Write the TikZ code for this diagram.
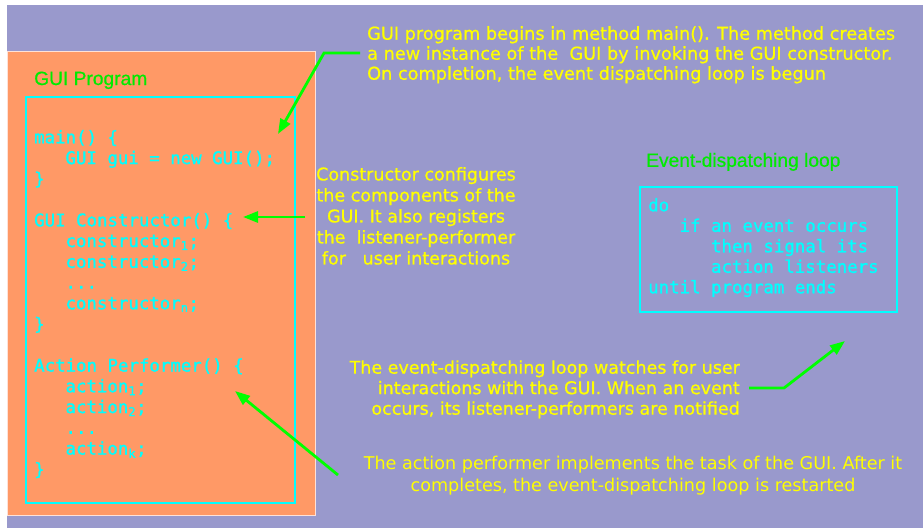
\documentclass[tikz,border=0pt]{standalone}
\usepackage{fontspec}
\setmainfont{DejaVu Sans}
\newfontfamily\notefont[FakeBold=0.8]{DejaVu Sans}
\newfontfamily\codefont[FakeBold=1.2]{DejaVu Sans Mono}
\newfontfamily\titlefont[FakeBold=0.6]{Liberation Sans}
\usetikzlibrary{arrows.meta}

\definecolor{bgpurple}{RGB}{153,153,204}
\definecolor{panelorange}{RGB}{255,153,102}
\definecolor{paneledge}{RGB}{255,225,215}
\definecolor{codecyan}{RGB}{0,255,255}
\definecolor{arrowgreen}{RGB}{0,255,0}
\definecolor{titlegreen}{RGB}{0,235,0}
\definecolor{noteyellow}{RGB}{255,255,0}

\begin{document}
\begin{tikzpicture}[x=1pt, y=-1pt,
  code/.style={anchor=base west, inner sep=0pt, text=codecyan,
    font=\codefont\fontsize{17.4}{20.6}\selectfont},
  heading/.style={anchor=base west, inner sep=0pt, text=titlegreen,
    font=\titlefont\fontsize{19.2}{22}\selectfont},
  note/.style={inner sep=0pt, text=noteyellow},
  cyanbox/.style={draw=codecyan, line width=1.3pt, inner sep=0pt},
  pointer/.style={draw=arrowgreen, line width=2.8pt, line join=miter,
    -{Triangle[length=15pt,width=11pt]}}
]
\useasboundingbox (0,0) rectangle (923,528);

% page background
\fill[white] (0,0) rectangle (923,528);
\fill[bgpurple] (7,5) rectangle (923,528);

% program panel with its code frame
\node[fill=panelorange, draw=paneledge, line width=1pt, inner sep=0pt,
      minimum width=308pt, minimum height=464pt] (panel) at (161,283) {};
\node[cyanbox, minimum width=269pt, minimum height=406pt] (codebox) at (160.5,300) {};
\node[heading] (progtitle) at (34,85) {GUI Program};

% program listing, one node per line
\foreach \n/\dx/\txt in {
   0/0/{main() \{},
   1/1/{GUI gui = new GUI();},
   2/0/{\}},
   4/0/{GUI Constructor() \{},
   5/1/{constructor\textsubscript{1};},
   6/1/{constructor\textsubscript{2};},
   7/1/{...},
   8/1/{constructor\textsubscript{n};},
   9/0/{\}},
  11/0/{Action Performer() \{},
  12/1/{action\textsubscript{1};},
  13/1/{action\textsubscript{2};},
  14/1/{...},
  15/1/{action\textsubscript{k};},
  16/0/{\}}}
  \node[code] (code\n) at ({34+31.3*\dx}, {143.3+20.75*\n}) {\txt};

% event-dispatching loop
\node[heading] (looptitle) at (646,166.8) {Event-dispatching loop};
\node[cyanbox, minimum width=257pt, minimum height=125pt] (loopbox) at (768.5,249.5) {};
\foreach \n/\dx/\txt in {
  0/0/{do},
  1/3/{if an event occurs},
  2/6/{then signal its},
  3/6/{action listeners},
  4/0/{until program ends}}
  \node[code] (loop\n) at ({648+10.47*\dx}, {211.3+20.5*\n}) {\txt};

% explanatory notes
\node[note, align=left, anchor=west,
      font=\notefont\fontsize{17.7}{20}\selectfont] (mainnote) at (367,54.8)
  {GUI program begins in method main(). The method creates\\
   a new instance of the\ \ GUI by invoking the GUI constructor.\\
   On completion, the event dispatching loop is begun};

\node[note, align=center, font=\notefont\fontsize{17.5}{21}\selectfont] (ctornote) at (416,215.9)
  {Constructor configures\\
   the components of the\\
   GUI. It also registers\\
   the\ \ listener-performer\\
   for\ \ \ user interactions};

\node[note, align=right, anchor=east,
      font=\notefont\fontsize{17.5}{20.5}\selectfont] (loopnote) at (740,389.3)
  {The event-dispatching loop watches for user\\
   interactions with the GUI. When an event\\
   occurs, its listener-performers are notified};

\node[note, align=center, font=\fontsize{17.6}{22}\selectfont] (actnote) at (633,475.8)
  {The action performer implements the task of the GUI. After it\\
   completes, the event-dispatching loop is restarted};

% arrow end points
\coordinate (mainfrom) at (360,53);
\coordinate (mainbend) at (324,53);
\coordinate (maintip) at (278,134);
\coordinate (ctorfrom) at (305,217);
\coordinate (ctortip) at (243,217);
\coordinate (loopfrom) at (749,388);
\coordinate (loopbend) at (784,388);
\coordinate (looptip) at (845,341);
\coordinate (actfrom) at (338,475);
\coordinate (acttip) at (235,391);

% pointers from the notes
\draw[pointer] (mainfrom) -- (mainbend) -- (maintip);
\draw[pointer] (ctorfrom) -- (ctortip);
\draw[pointer] (loopfrom) -- (loopbend) -- (looptip);
\draw[pointer] (actfrom) -- (acttip);
\end{tikzpicture}
\end{document}
